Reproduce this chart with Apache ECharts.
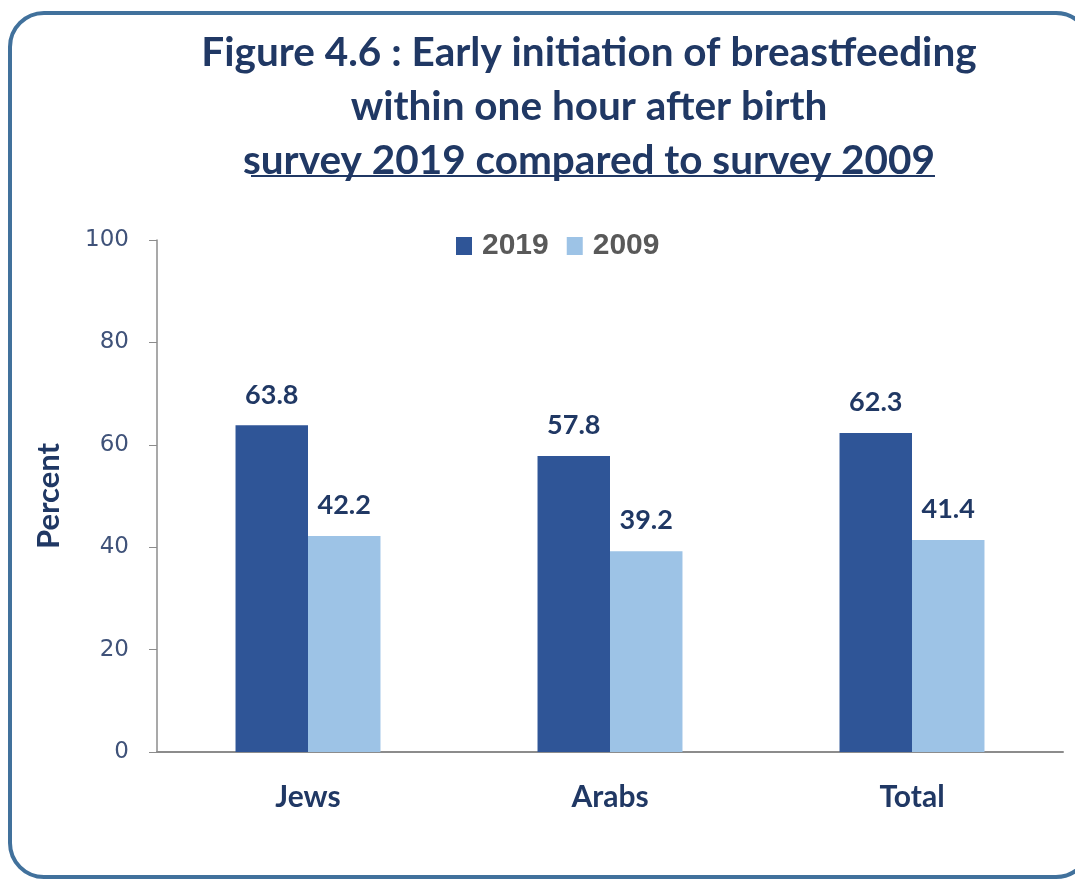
<!DOCTYPE html>
<html>
<head>
<meta charset="utf-8">
<script src="https://cdn.jsdelivr.net/npm/echarts@6/dist/echarts.min.js"></script>
<style>
    html, body { margin: 0; padding: 0; background: #fff; }
    #chart { width: 1075px; height: 881px; }
</style>
</head>
<body>
<div id="chart"></div>
<script>
    // groups on the x axis
    const categories = ['Jews', 'Arabs', 'Total'];
    // survey values (percent)
    const values2019 = [63.8, 57.8, 62.3];
    const values2009 = [42.2, 39.2, 41.4];
    const yTicks = { min: 0, max: 100, step: 20 };

    const titleColor = '#203864';
    const font = 'Lato, "Liberation Sans", sans-serif';

    const chart = echarts.init(document.getElementById('chart'));

    const dataLabel = {
        show: true,
        position: 'top',
        distance: 17,
        color: titleColor,
        fontFamily: font,
        fontWeight: 'bold',
        fontSize: 27
    };

    chart.setOption({
        animation: false,
        title: {
            text: 'Figure 4.6 : Early initiation of breastfeeding\nwithin one hour after birth\nsurvey 2019 compared to survey 2009',
            left: 584,
            top: 21,
            textAlign: 'center',
            textStyle: {
                color: titleColor,
                fontFamily: font,
                fontWeight: 'bold',
                fontSize: 40.5,
                lineHeight: 54
            }
        },
        legend: {
            top: 226,
            left: 451,
            itemWidth: 16,
            itemHeight: 18,
            itemGap: 18,
            icon: 'rect',
            textStyle: {
                color: '#595959',
                fontFamily: '"Liberation Sans", Arial, sans-serif',
                fontWeight: 'bold',
                fontSize: 30,
                padding: [0, 0, 0, 5]
            },
            data: ['2019', '2009']
        },
        grid: { left: 157, right: 12, top: 240, bottom: 129 },
        xAxis: {
            type: 'category',
            data: categories,
            axisLine: { lineStyle: { color: '#8c8c8c', width: 2 } },
            axisTick: { show: false },
            axisLabel: {
                margin: 30,
                color: titleColor,
                fontFamily: font,
                fontWeight: 'bold',
                fontSize: 30
            }
        },
        yAxis: {
            type: 'value',
            min: yTicks.min,
            max: yTicks.max,
            interval: yTicks.step,
            name: 'Percent',
            nameLocation: 'middle',
            nameGap: 93,
            nameTextStyle: {
                color: titleColor,
                fontFamily: font,
                fontWeight: 'bold',
                fontSize: 31
            },
            splitLine: { show: false },
            axisLine: { show: true, lineStyle: { color: '#8c8c8c', width: 1.5 } },
            axisTick: { show: true, length: 8, lineStyle: { color: '#8c8c8c' } },
            axisLabel: {
                margin: 28,
                color: '#3F5279',
                fontFamily: '"DejaVu Sans", sans-serif',
                fontSize: 23
            }
        },
        series: [
            {
                name: '2019',
                type: 'bar',
                data: values2019,
                barGap: '0%',
                barCategoryGap: '52%',
                itemStyle: { color: '#2F5597' },
                label: dataLabel
            },
            {
                name: '2009',
                type: 'bar',
                data: values2009,
                itemStyle: { color: '#9DC3E6' },
                label: dataLabel
            }
        ],
        graphic: [
            {
                type: 'rect',
                shape: { x: 10, y: 13, width: 1080, height: 864, r: 34 },
                style: { fill: null, stroke: '#41719C', lineWidth: 4 },
                silent: true
            },
            {
                type: 'line',
                shape: { x1: 251, y1: 176, x2: 935, y2: 176 },
                style: { stroke: titleColor, lineWidth: 2 },
                silent: true
            }
        ]
    });
</script>
</body>
</html>
